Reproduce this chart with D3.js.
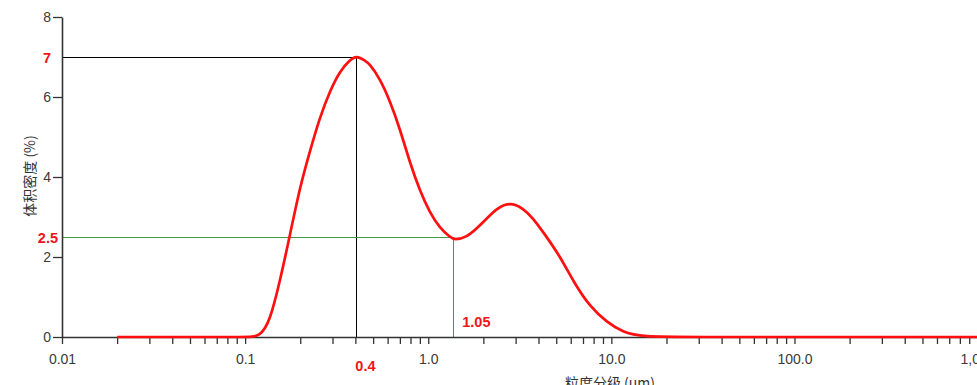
<!DOCTYPE html>
<html><head><meta charset="utf-8">
<script src="https://cdn.jsdelivr.net/npm/d3@7/dist/d3.min.js"></script>
<style>body{margin:0;background:#fff;}svg{display:block;}</style>
</head><body>
<svg id="c" width="977" height="385"></svg>
<script>
// particle size (um) and volume density (%)
const sizes   = [0.02, 0.05, 0.1, 0.1206, 0.1367, 0.155, 0.1757, 0.1993, 0.2259, 0.2562, 0.2905, 0.3294, 0.3735, 0.405, 0.4459, 0.4808, 0.5452, 0.6181, 0.7009, 0.7947, 0.9011, 1.022, 1.159, 1.314, 1.39, 1.628, 1.846, 2.094, 2.375, 2.796, 3.293, 3.734, 4.234, 5.243, 6.176, 7.645, 9.469, 11.58, 14.34, 30, 100, 300, 1000];
const volumes = [0, 0, 0, 0, 0.4, 1.4, 2.55, 3.75, 4.65, 5.5, 6.15, 6.65, 6.93, 7.03, 6.93, 6.82, 6.45, 5.9, 5.2, 4.35, 3.65, 3.1, 2.72, 2.5, 2.42, 2.5, 2.72, 2.97, 3.22, 3.37, 3.22, 2.97, 2.63, 2.02, 1.4, 0.75, 0.37, 0.12, 0, 0, 0, 0, 0];
const yTicks = [0, 2, 4, 6, 8];
const xMajor = [0.01, 0.1, 1, 10, 100, 1000];
const xMajorLabels = ["0.01", "0.1", "1.0", "10.0", "100.0", "1,000"];
// annotations
const peakX = 0.405, peakY = 7;
const valleyX = 1.37, valleyY = 2.5;
const annotYLabels = ["7", "2.5"];
const annotXLabels = ["0.4", "1.05"];
const yTitle = "体积密度 (%)";
const xTitle = "粒度分级 (um)";

const svg = d3.select("#c");
const x = d3.scaleLog().domain([0.01, 1000]).range([62, 977.6]);
const y = d3.scaleLinear().domain([0, 8]).range([337, 17]);

const minor = [];
for (let k = -2; k <= 2; k++) for (let m = 1; m <= 9; m++) minor.push(m * Math.pow(10, k));
minor.push(1000);

// reference lines
const ref = (x1, y1, x2, y2, c) => svg.append("line").attr("x1", x1).attr("x2", x2).attr("y1", y1).attr("y2", y2)
  .attr("stroke", c).attr("stroke-width", 1).attr("shape-rendering", "crispEdges");
ref(x(0.01), y(peakY), x(peakX), y(peakY), "#000");
ref(x(peakX), y(peakY), x(peakX), y(0), "#000");
ref(x(0.01), y(valleyY), x(valleyX), y(valleyY), "#3f9a4e");
ref(x(valleyX), y(valleyY), x(valleyX), y(0), "#3f9a4e");

// axes
const fmt = d => { const i = xMajor.indexOf(d); return i >= 0 ? xMajorLabels[i] : ""; };
const gx = svg.append("g").attr("transform", `translate(0,${y(0)})`)
  .call(d3.axisBottom(x).tickValues(minor).tickFormat(fmt).tickSize(7).tickSizeOuter(0).tickPadding(10));
const gy = svg.append("g").attr("transform", `translate(${x(0.01)},0)`)
  .call(d3.axisLeft(y).tickValues(yTicks).tickSize(9).tickSizeOuter(0).tickPadding(2));
[gx, gy].forEach(g => {
  g.select(".domain").attr("stroke", "#333").attr("stroke-width", 1.6);
  g.selectAll(".tick line").attr("stroke", "#333").attr("stroke-width", 1.3);
  g.selectAll(".tick text").attr("fill", "#3a3a3a").style("font-family", "Liberation Sans, Arial, sans-serif").style("font-size", "14px");
});

// curve
const pts = sizes.map((s, i) => [s, volumes[i]]);
svg.append("path").datum(pts)
  .attr("d", d3.line().x(d => x(d[0])).y(d => y(d[1])).curve(d3.curveBasis))
  .attr("fill", "none").attr("stroke", "#ff1010").attr("stroke-width", 2.7).attr("stroke-linejoin", "round");

// red annotation labels
const red = "#ee1515";
const lab = (t, px, py, anchor) => svg.append("text").text(t).attr("x", px).attr("y", py)
  .attr("text-anchor", anchor).attr("fill", red)
  .style("font-family", "Liberation Sans, Arial, sans-serif").style("font-size", "14.5px").style("font-weight", "bold");
lab(annotYLabels[0], 51, y(peakY) + 5.5, "end");
lab(annotYLabels[1], 58, y(valleyY) + 6, "end");
lab(annotXLabels[0], x(peakX) - 1, 371, "start");
lab(annotXLabels[1], x(valleyX) + 9, 327, "start");

// axis titles
svg.append("text").text(yTitle)
  .attr("transform", `translate(35,${176}) rotate(-90)`).attr("text-anchor", "middle")
  .attr("fill", "#333").style("font-family", "Noto Sans CJK SC, sans-serif").style("font-size", "14px");
svg.append("text").text(xTitle)
  .attr("x", 610).attr("y", 388).attr("text-anchor", "middle")
  .attr("fill", "#333").style("font-family", "Noto Sans CJK SC, sans-serif").style("font-size", "14px");
</script>
</body></html>
